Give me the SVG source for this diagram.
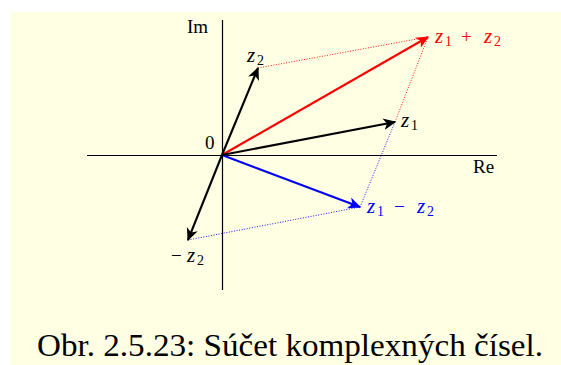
<svg xmlns="http://www.w3.org/2000/svg" width="561" height="365" viewBox="0 0 561 365">
<defs>
<style>
.t{font-size:19px}
.z{font-style:italic;font-size:21px}
.s{font-size:14px}
.o{font-size:19px}
.vec{stroke-width:2.1;fill:none}
.dot{stroke-width:0.9;stroke-dasharray:1 1.6;fill:none}
</style>
<marker id="ak" markerUnits="userSpaceOnUse" markerWidth="14" markerHeight="14" refX="10" refY="5" orient="auto" viewBox="0 0 12 10"><path d="M0,0 L11,5 L0,10 L3,5 Z" fill="#000"/></marker>
<marker id="ar" markerUnits="userSpaceOnUse" markerWidth="14" markerHeight="14" refX="10" refY="5" orient="auto" viewBox="0 0 12 10"><path d="M0,0 L11,5 L0,10 L3,5 Z" fill="#f00"/></marker>
<marker id="ab" markerUnits="userSpaceOnUse" markerWidth="14" markerHeight="14" refX="10" refY="5" orient="auto" viewBox="0 0 12 10"><path d="M0,0 L11,5 L0,10 L3,5 Z" fill="#00f"/></marker>
</defs>
<rect x="11" y="12" width="550" height="353" fill="#FFFFE3"/>
<g id="axes" stroke="#000" stroke-width="1.2">
<line x1="87" y1="155.5" x2="497" y2="155.5"/>
<line x1="222.5" y1="20" x2="222.5" y2="290"/>
</g>
<g id="connectors">
<line class="dot" x1="258" y1="68" x2="428" y2="37" stroke="#f00"/>
<line class="dot" x1="395" y1="122" x2="428" y2="37" stroke="#f00"/>
<line class="dot" x1="395" y1="122" x2="360" y2="207" stroke="#00f"/>
<line class="dot" x1="188" y1="240" x2="360" y2="207" stroke="#00f"/>
<line class="vec" x1="222" y1="155" x2="428" y2="37" stroke="#f00" marker-end="url(#ar)"/>
<line class="vec" x1="222" y1="155" x2="360" y2="207" stroke="#00f" marker-end="url(#ab)"/>
<line class="vec" x1="222" y1="155" x2="395" y2="122" stroke="#000" marker-end="url(#ak)"/>
<line class="vec" x1="222" y1="155" x2="258" y2="68" stroke="#000" marker-end="url(#ak)"/>
<line class="vec" x1="222" y1="155" x2="188" y2="240" stroke="#000" marker-end="url(#ak)"/>
</g>
<g font-family="Liberation Serif, serif">
<g id="label-im"><text class="t" x="187" y="33">Im</text></g>
<g id="label-re"><text class="t" x="473" y="173">Re</text></g>
<g id="label-0"><text class="t" x="205" y="149">0</text></g>
<g id="label-z2"><text class="z" x="247" y="62">z</text><text class="s" x="257" y="65">2</text></g>
<g id="label-z1"><text class="z" x="401" y="127">z</text><text class="s" x="411" y="130">1</text></g>
<g id="label-sum" fill="#f00"><text class="z" x="435" y="43">z</text><text class="s" x="445" y="46">1</text><text class="o" x="461" y="43">+</text><text class="z" x="484" y="43">z</text><text class="s" x="494" y="46">2</text></g>
<g id="label-diff" fill="#00f"><text class="z" x="367" y="213">z</text><text class="s" x="377" y="216">1</text><text class="o" x="394" y="213">−</text><text class="z" x="417" y="213">z</text><text class="s" x="427" y="216">2</text></g>
<g id="label-neg"><text class="o" x="171" y="262">−</text><text class="z" x="187" y="262">z</text><text class="s" x="197" y="265">2</text></g>
<text x="37" y="356" textLength="506" lengthAdjust="spacingAndGlyphs" font-size="31">Obr. 2.5.23: Súčet komplexných čísel.</text>
</g>
</svg>
